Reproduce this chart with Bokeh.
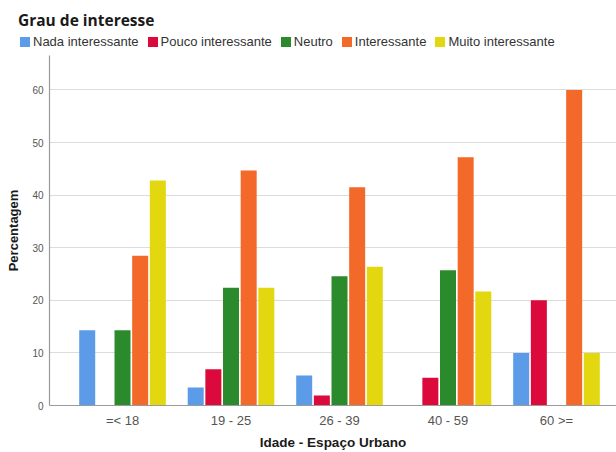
import numpy as np
from bokeh.plotting import figure
from bokeh.layouts import column
from bokeh.models import ColumnDataSource, Div, FixedTicker, Range1d
from bokeh.transform import dodge
from bokeh.embed import file_html
from bokeh.resources import INLINE

# Age groups and percentage per interest level
categories = ["=< 18", "19 - 25", "26 - 39", "40 - 59", "60 >="]
series_names = ["Nada interessante", "Pouco interessante", "Neutro",
                "Interessante", "Muito interessante"]
nada = [14.3, 3.4, 5.7, 0.0, 10.0]
pouco = [0.0, 6.9, 1.9, 5.3, 20.0]
neutro = [14.3, 22.4, 24.6, 25.7, 0.0]
interessante = [28.5, 44.7, 41.5, 47.2, 60.0]
muito = [42.8, 22.4, 26.4, 21.7, 10.0]
y_ticks = [0, 10, 20, 30, 40, 50, 60]

colors = ["#5b9be8", "#dc0a3c", "#2b8a2b", "#f2692a", "#e3d70f"]

source = ColumnDataSource(data=dict(
    x=list(range(len(categories))),
    nada=nada, pouco=pouco, neutro=neutro,
    interessante=interessante, muito=muito,
))
columns = ["nada", "pouco", "neutro", "interessante", "muito"]

FONT = "Liberation Sans"
W = 616

# ---- header: title and horizontal legend ----
legend_items = "".join(
    f'<span style="display:inline-flex;align-items:center;margin-right:9px;">'
    f'<span style="display:inline-block;width:10px;height:10px;background:{c};'
    f'margin-right:3px;"></span>{n}</span>'
    for n, c in zip(series_names, colors)
)
header_html = (
    f'<div style="position:relative;width:{W}px;height:55px;">'
    f'<div style="position:absolute;left:18px;top:10px;font-family:\'Open Sans\';'
    f'font-weight:bold;font-size:15.5px;color:#1a1a1a;line-height:20px;'
    f'white-space:nowrap;">Grau de interesse</div>'
    f'<div style="position:absolute;left:20px;top:34px;font-family:\'{FONT}\';'
    f'font-size:13px;color:#333333;line-height:16px;white-space:nowrap;'
    f'display:flex;align-items:center;">{legend_items}</div>'
    f'</div>'
)
header = Div(text=header_html, width=W, height=55, margin=0)

# ---- main bar chart ----
p = figure(width=W, height=397, output_backend="svg", toolbar_location=None,
           x_range=Range1d(-0.673, 4.553), y_range=Range1d(0, 66.56),
           min_border_left=49, min_border_right=0,
           min_border_top=0, min_border_bottom=47)
p.outline_line_color = None
p.background_fill_color = "white"
p.border_fill_color = "white"

slot = 0.1627
bar_w = 0.1475
for i, (col, color) in enumerate(zip(columns, colors)):
    p.vbar(x=dodge("x", (i - 2) * slot), top=col, width=bar_w,
           source=source, fill_color=color, line_color=None)

p.xaxis.ticker = FixedTicker(ticks=list(range(len(categories))))
p.xaxis.major_label_overrides = {i: c for i, c in enumerate(categories)}
p.xaxis.axis_label = "Idade - Espaço Urbano"
p.yaxis.ticker = FixedTicker(ticks=y_ticks)
p.yaxis.axis_label = "Percentagem"

for ax in (p.xaxis[0], p.yaxis[0]):
    ax.axis_line_color = "#9a9a9a"
    ax.axis_line_width = 1.2
    ax.major_tick_line_color = None
    ax.minor_tick_line_color = None
    ax.major_tick_out = 0
    ax.major_tick_in = 0
    ax.minor_tick_out = 0
    ax.major_label_text_color = "#555555"
    ax.major_label_text_font = FONT
    ax.axis_label_text_font = FONT
    ax.axis_label_text_font_style = "bold"
    ax.axis_label_text_color = "#1a1a1a"
    ax.axis_label_text_font_size = "13px"

p.xaxis.major_label_text_font_size = "13px"
p.xaxis.major_label_standoff = 7
p.xaxis.axis_label_standoff = 4
p.xaxis.axis_label_text_font_size = "13.5px"
p.yaxis.major_label_text_font_size = "10px"
p.yaxis.major_label_standoff = 6
p.yaxis.axis_label_standoff = 8

p.xgrid.grid_line_color = None
p.ygrid.grid_line_color = "#dcdcdc"
p.ygrid.grid_line_width = 1.2

layout = column(header, p, spacing=0)
open("out.html", "w").write(file_html(layout, INLINE))
